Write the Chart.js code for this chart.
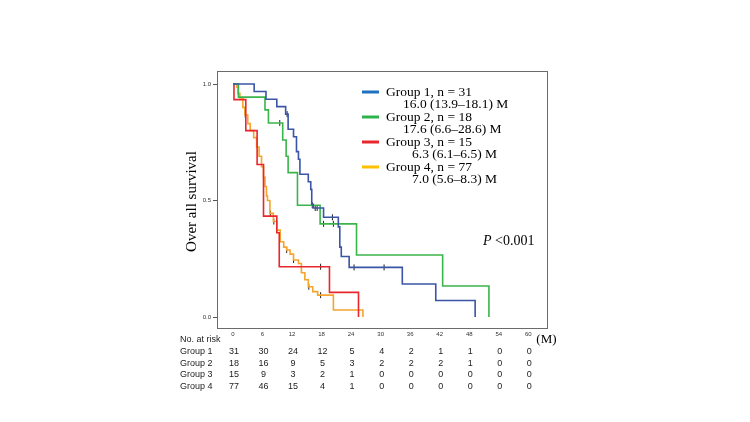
<!DOCTYPE html>
<html lang="en">
<head>
    <meta charset="UTF-8">
    <title>Over all survival</title>
    <script src="https://cdn.jsdelivr.net/npm/chart.js"></script>
    <style>
        body {
            margin: 0;
            background-color: #fff;
        }
        canvas {
            display: block;
        }
    </style>
</head>
<body>
    <canvas id="kmChart" width="750" height="422"></canvas>

    <script>
        // survival curves, [month, survival]
        const group1Steps = [[0, 1], [4.3, 0.968], [6.7, 0.935], [8.9, 0.903], [10.7, 0.871], [11.2, 0.806], [12.3, 0.774], [12.9, 0.71], [13.3, 0.677], [13.6, 0.613], [15.3, 0.581], [15.8, 0.548], [16.0, 0.484], [16.3, 0.468], [18.4, 0.428], [21.4, 0.387], [21.7, 0.30], [22.0, 0.26], [23.6, 0.213], [34.4, 0.142], [41.2, 0.071], [49.2, 0]];
        const group2Steps = [[0, 1], [1.1, 0.944], [6.5, 0.889], [7.2, 0.833], [10.1, 0.76], [10.8, 0.69], [11.2, 0.62], [13.1, 0.48], [17.7, 0.40], [25.1, 0.266], [42.6, 0.133], [52.0, 0]];
        const group3Steps = [[0, 1], [0.2, 0.933], [2.6, 0.80], [4.9, 0.655], [6.2, 0.433], [8.9, 0.362], [9.4, 0.216], [19.6, 0.106], [25.5, 0]];
        const group4Steps = [[0, 1], [0.8, 0.987], [1.0, 0.96], [1.4, 0.94], [2.0, 0.90], [2.4, 0.867], [3.0, 0.83], [3.5, 0.80], [4.2, 0.77], [4.8, 0.73], [5.3, 0.69], [5.8, 0.645], [6.2, 0.60], [6.5, 0.56], [6.8, 0.52], [7.0, 0.50], [7.5, 0.445], [8.2, 0.41], [8.9, 0.373], [9.6, 0.323], [10.3, 0.30], [10.9, 0.288], [11.6, 0.27], [12.3, 0.245], [13.3, 0.23], [13.9, 0.19], [14.6, 0.16], [15.3, 0.13], [16.2, 0.109], [17.2, 0.094], [20.4, 0.03], [26.4, 0]];

        // censored observations
        const censorMarks = [[11.0, 0.871], [16.7, 0.468], [17.1, 0.468], [20.2, 0.428], [24.6, 0.213], [30.7, 0.213],
            [9.5, 0.833], [16.1, 0.48], [18.4, 0.40], [20.4, 0.40],
            [17.8, 0.216],
            [2.5, 0.867], [7.6, 0.445], [8.3, 0.41], [10.9, 0.288], [12.3, 0.245], [15.4, 0.13], [17.8, 0.094]];

        const groupNames = ['Group 1, n = 31', 'Group 2, n = 18', 'Group 3, n = 15', 'Group 4, n = 77'];
        const groupMedians = ['16.0 (13.9–18.1) M', '17.6 (6.6–28.6) M', '6.3 (6.1–6.5) M', '7.0 (5.6–8.3) M'];
        const curveColors = ['#3a55a6', '#3bb54a', '#e8262b', '#f5a42c'];
        const legendColors = ['#1f70c1', '#2fb34c', '#e8262b', '#ffc000'];

        const xTickValues = [0, 6, 12, 18, 24, 30, 36, 42, 48, 54, 60];
        const yTickValues = [0, 0.5, 1];
        const riskRows = ['Group 1', 'Group 2', 'Group 3', 'Group 4'];
        const atRisk = [
            [31, 30, 24, 12, 5, 4, 2, 1, 1, 0, 0],
            [18, 16, 9, 5, 3, 2, 2, 2, 1, 0, 0],
            [15, 9, 3, 2, 1, 0, 0, 0, 0, 0, 0],
            [77, 46, 15, 4, 1, 0, 0, 0, 0, 0, 0]
        ];

        const serif = '"Liberation Serif", "DejaVu Serif", serif';
        const sans = '"Liberation Sans", Arial, sans-serif';

        const extrasPlugin = {
            id: 'extras',
            afterDraw(chart) {
                const ctx = chart.ctx;
                const area = chart.chartArea;
                const xs = chart.scales.x;
                ctx.save();

                // frame
                ctx.strokeStyle = '#6b6b6b';
                ctx.lineWidth = 1;
                ctx.strokeRect(area.left + 0.5, area.top + 0.5, area.right - area.left, area.bottom - area.top);

                // y title
                ctx.fillStyle = '#000';
                ctx.font = '15px ' + serif;
                ctx.textAlign = 'center';
                ctx.textBaseline = 'middle';
                ctx.save();
                ctx.translate(192, (area.top + area.bottom) / 2 + 2);
                ctx.rotate(-Math.PI / 2);
                ctx.fillText('Over all survival', 0, 0);
                ctx.restore();

                // legend
                ctx.textAlign = 'left';
                ctx.font = '13.5px ' + serif;
                const indents = [403, 403, 412, 412];
                groupNames.forEach((name, i) => {
                    const y = 92 + i * 25;
                    ctx.strokeStyle = legendColors[i];
                    ctx.lineWidth = 3;
                    ctx.beginPath();
                    ctx.moveTo(362, y);
                    ctx.lineTo(379, y);
                    ctx.stroke();
                    ctx.fillText(name, 386, y);
                    ctx.fillText(groupMedians[i], indents[i], y + 12.5);
                });

                // p value
                ctx.font = 'italic 14px ' + serif;
                ctx.fillText('P', 483, 241);
                const pw = ctx.measureText('P ').width;
                ctx.font = '14px ' + serif;
                ctx.fillText('<0.001', 483 + pw, 241);

                // unit
                ctx.font = '13px ' + serif;
                ctx.fillText('(M)', xs.getPixelForValue(60) + 8, 340);

                // numbers at risk
                ctx.font = '9px ' + sans;
                ctx.fillStyle = '#222';
                ctx.fillText('No. at risk', 180, 340);
                riskRows.forEach((row, r) => {
                    const y = 351.5 + r * 11.7;
                    ctx.textAlign = 'left';
                    ctx.fillText(row, 180, y);
                    ctx.textAlign = 'center';
                    atRisk[r].forEach((n, k) => {
                        ctx.fillText(String(n), xs.getPixelForValue(xTickValues[k]) + 1, y);
                    });
                });
                ctx.restore();
            }
        };

        const stepSets = [group1Steps, group2Steps, group3Steps, group4Steps];
        const datasets = stepSets.map((steps, i) => ({
            label: groupNames[i],
            data: steps.map(p => ({ x: p[0], y: p[1] })),
            borderColor: curveColors[i],
            borderWidth: 1.6,
            stepped: 'before',
            pointRadius: 0,
            fill: false
        }));
        datasets.push({
            type: 'scatter',
            label: 'censored',
            data: censorMarks.map(p => ({ x: p[0], y: p[1] })),
            pointStyle: 'line',
            rotation: 90,
            pointRadius: 3,
            borderColor: '#222',
            borderWidth: 1
        });

        new Chart(document.getElementById('kmChart'), {
            type: 'line',
            data: { datasets: datasets },
            options: {
                responsive: false,
                animation: false,
                layout: { padding: { left: 187, top: 71, right: 203, bottom: 80 } },
                plugins: {
                    legend: { display: false },
                    tooltip: { enabled: false }
                },
                scales: {
                    x: {
                        type: 'linear',
                        min: -3.25,
                        max: 63.8,
                        afterBuildTicks: s => { s.ticks = xTickValues.map(v => ({ value: v })); },
                        afterFit: s => { s.height = 14; },
                        grid: { display: false, drawTicks: false, tickLength: 0 },
                        border: { display: false },
                        ticks: { font: { size: 6, family: sans }, color: '#333', padding: 3, maxRotation: 0 }
                    },
                    y: {
                        min: -0.047,
                        max: 1.056,
                        afterBuildTicks: s => { s.ticks = yTickValues.map(v => ({ value: v })); },
                        afterFit: s => { s.width = 30; },
                        grid: { drawOnChartArea: false, tickLength: 4, color: '#555' },
                        border: { display: false },
                        ticks: { font: { size: 6, family: sans }, color: '#333', padding: 2, callback: v => v.toFixed(1) }
                    }
                }
            },
            plugins: [extrasPlugin]
        });
    </script>
</body>
</html>
